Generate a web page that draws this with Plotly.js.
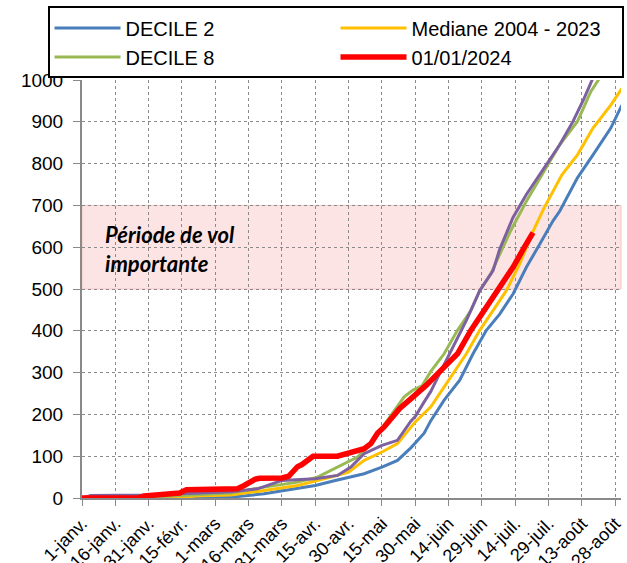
<!DOCTYPE html>
<html>
<head>
<meta charset="utf-8">
<script src="https://cdn.plot.ly/plotly-3.0.1.min.js"></script>
<style>html,body{margin:0;padding:0;background:#fff;}#chart{width:627px;height:563px;}</style>
</head>
<body>
<div id="chart"></div>
<script>
// x = day index from 1 January (2024, leap year)
const tickDays = [0, 15, 30, 45, 60, 75, 90, 105, 120, 135, 150, 165, 180, 195, 210, 225, 240];
const tickLabels = ['1-janv.', '16-janv.', '31-janv.', '15-févr.', '1-mars', '16-mars', '31-mars', '15-avr.', '30-avr.', '15-mai', '30-mai', '14-juin', '29-juin', '14-juil.', '29-juil.', '13-août', '28-août'];

const decile2Days = [0, 30, 55, 67, 82, 91, 105, 114, 120, 127, 135, 142, 148, 154, 157, 163, 170, 176, 182, 188, 194, 200, 206, 212, 215, 223, 230, 238, 243];
const decile2Vals = [0, 0, 1, 2, 10, 18, 30, 42, 50, 58, 74, 90, 120, 155, 185, 234, 282, 345, 401, 440, 488, 552, 607, 663, 686, 766, 821, 885, 940];

const medianeDays = [0, 45, 51, 67, 82, 97, 112, 120, 127, 135, 142, 150, 157, 166, 173, 179, 185, 191, 197, 203, 208, 216, 223, 230, 238, 243];
const medianeVals = [0, 0, 5, 7, 18, 30, 50, 62, 90, 110, 130, 182, 218, 290, 345, 401, 448, 496, 560, 638, 694, 773, 821, 885, 940, 980];

const decile8Days = [0, 30, 40, 58, 67, 82, 97, 106, 115, 124, 130, 136, 145, 149, 153, 157, 163, 169, 175, 179, 184, 188, 193, 200, 208, 215, 223, 229, 233];
const decile8Vals = [0, 0, 5, 10, 12, 26, 38, 50, 74, 98, 130, 174, 242, 258, 268, 303, 345, 401, 448, 496, 536, 583, 640, 710, 782, 845, 901, 972, 1005];

const violetDays = [0, 4, 30, 45, 55, 67, 79, 90, 105, 115, 121, 127, 135, 142, 148, 150, 154, 157, 161, 167, 173, 179, 185, 188, 194, 200, 208, 215, 221, 226, 230];
const violetVals = [0, 6, 7, 10, 12, 15, 22, 42, 46, 54, 74, 106, 126, 138, 184, 195, 230, 255, 298, 361, 425, 496, 544, 595, 671, 726, 790, 845, 901, 956, 1005];

const y2024Days = [0, 25, 28, 38, 44, 47, 70, 73, 78, 80, 90, 93, 97, 99, 104, 115, 120, 127, 130, 133, 136, 139, 143, 149, 155, 163, 169, 175, 181, 188, 194, 199, 203];
const y2024Vals = [0, 0, 5, 10, 12, 20, 22, 30, 45, 47, 48, 52, 75, 80, 100, 100, 108, 118, 130, 155, 170, 190, 214, 242, 270, 313, 345, 401, 448, 504, 552, 599, 635];

const bandLow = 500, bandHigh = 700;
const bandText = 'Période de vol<br>importante';

const traces = [
  {x: decile2Days, y: decile2Vals, name: 'DECILE 2', mode: 'lines', line: {color: '#4A7EBB', width: 3}},
  {x: medianeDays, y: medianeVals, name: 'Mediane 2004 - 2023', mode: 'lines', line: {color: '#FFC000', width: 3}},
  {x: decile8Days, y: decile8Vals, name: 'DECILE 8', mode: 'lines', line: {color: '#98B954', width: 3}},
  {x: violetDays, y: violetVals, name: '', mode: 'lines', showlegend: false, line: {color: '#7D60A0', width: 3}},
  {x: y2024Days, y: y2024Vals, name: '01/01/2024', mode: 'lines', line: {color: '#FF0000', width: 5.5}}
];

const layout = {
  width: 627, height: 563,
  margin: {l: 82, r: 6, t: 78, b: 65},
  paper_bgcolor: '#fff', plot_bgcolor: '#fff',
  font: {family: 'Liberation Sans, Arial, sans-serif', color: '#000'},
  showlegend: true,
  legend: {
    orientation: 'h', x: -0.064, y: 1.176, xanchor: 'left', yanchor: 'top',
    entrywidth: 205, entrywidthmode: 'pixels', itemwidth: 66,
    bordercolor: '#000', borderwidth: 2, bgcolor: '#fff',
    font: {size: 20, family: 'Liberation Sans, Arial, sans-serif', color: '#000'}
  },
  xaxis: {
    range: [0, 242.6], tickvals: tickDays, ticktext: tickLabels,
    tickangle: -45, tickfont: {size: 18},
    showgrid: true, gridcolor: '#8a8a8a', griddash: 'dot', gridwidth: 1,
    showline: true, linecolor: '#8a8a8a', linewidth: 2,
    ticks: 'outside', ticklen: 6, tickcolor: '#8a8a8a',
    zeroline: false, fixedrange: true
  },
  yaxis: {
    range: [0, 1000], dtick: 100, tick0: 0,
    tickfont: {size: 19}, ticklabelstandoff: 6,
    showgrid: true, gridcolor: '#8a8a8a', griddash: 'dot', gridwidth: 1,
    showline: true, linecolor: '#8a8a8a', linewidth: 2,
    ticks: 'outside', ticklen: 7, tickcolor: '#8a8a8a',
    zeroline: false, fixedrange: true
  },
  shapes: [{
    type: 'rect', xref: 'paper', yref: 'y', x0: 0, x1: 1, y0: bandLow, y1: bandHigh,
    fillcolor: '#FDE4E4', line: {color: '#F6C4C4', width: 1}, layer: 'below'
  }],
  annotations: [{
    xref: 'x', yref: 'y', x: 9.3, y: 595, xanchor: 'left', yanchor: 'middle', align: 'left',
    text: '<b><i>' + bandText + '</i></b>', showarrow: false,
    font: {family: 'Lato, Open Sans, sans-serif', size: 22, color: '#000'}
  }]
};

Plotly.newPlot('chart', traces, layout, {staticPlot: true, displayModeBar: false});
</script>
</body>
</html>
